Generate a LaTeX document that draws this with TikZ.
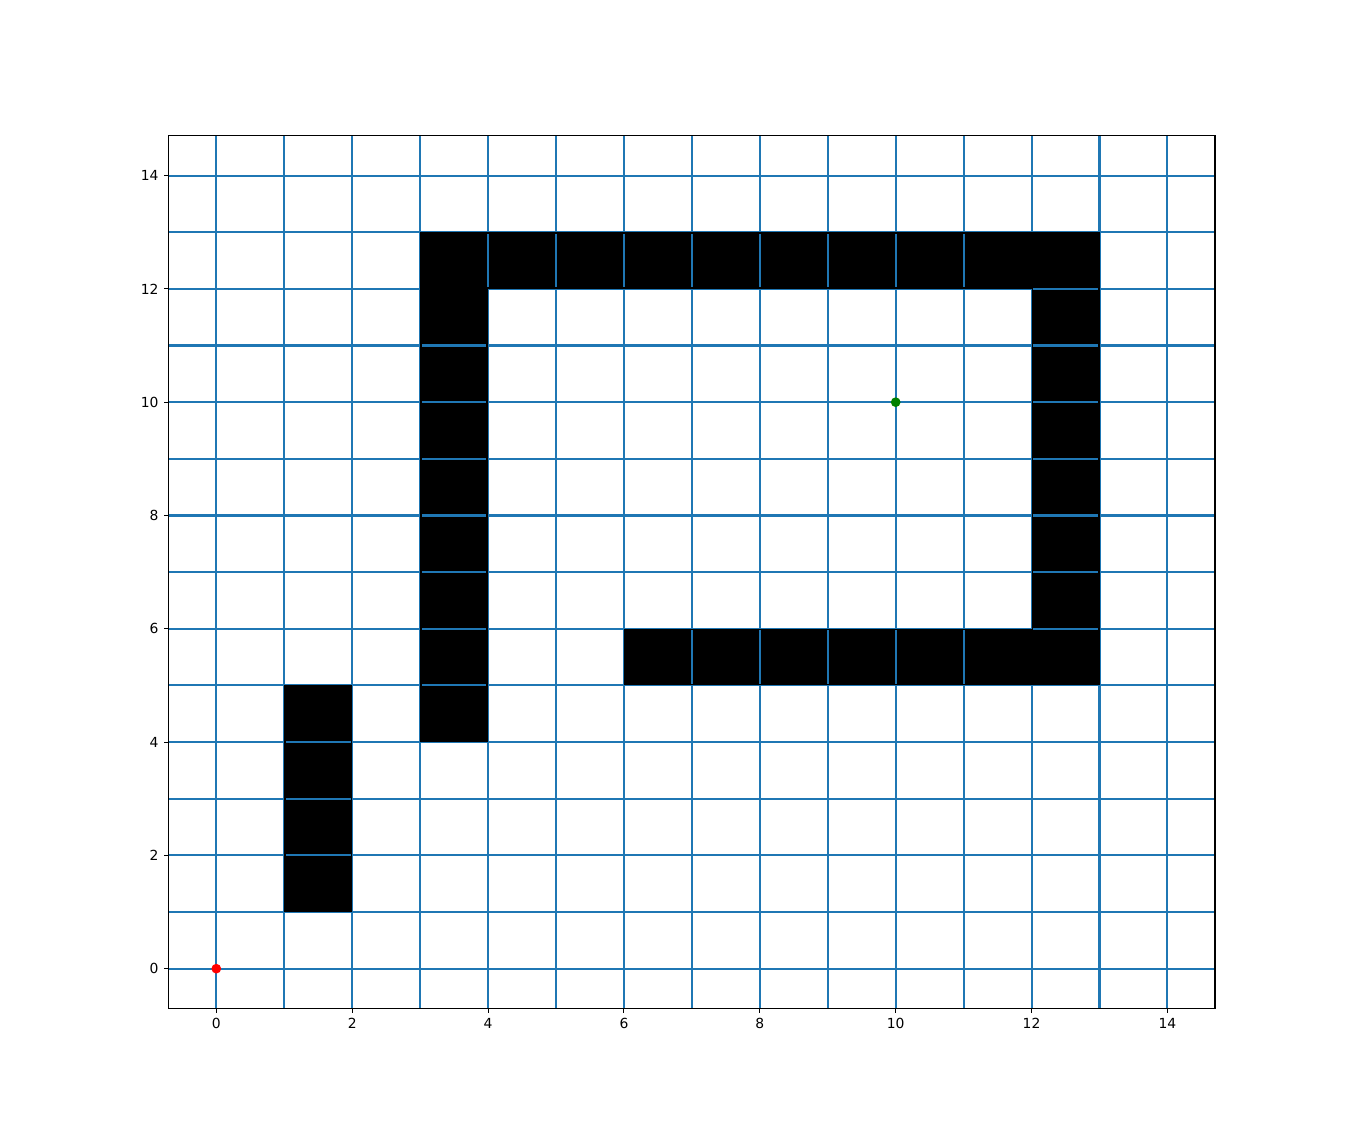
\documentclass[tikz,border=0pt]{standalone}
\usepackage{fontspec}
\setmainfont{DejaVu Sans}
\definecolor{mplblue}{HTML}{1F77B4}
\definecolor{mplgreen}{HTML}{008000}
\definecolor{mplred}{HTML}{FF0000}
\begin{document}
\begin{tikzpicture}[
  gridline/.style={mplblue, line width=1.5pt},
  innerline/.style={mplblue, line width=1.5pt, shorten <=1.2pt, shorten >=1.2pt},
  wall/.style={fill=black},
  ticklabel/.style={font=\fontsize{10}{12}\selectfont, inner sep=0pt},
  tickmark/.style={line width=0.8pt},
  dot/.style={circle, inner sep=0pt, minimum size=7pt}
]
\useasboundingbox (0,0) rectangle (972pt,815.76pt);
\begin{scope}[shift={(155.74pt,118.3pt)}, x=48.915pt, y=40.788pt]
  \coordinate (ll) at (-0.7,-0.7);
  \coordinate (ur) at (14.7,14.7);
  \begin{scope}
    \clip (ll) rectangle (ur);
    \foreach \i in {0,...,14} {
      \draw[gridline] (\i,-0.7) -- (\i,14.7);
      \draw[gridline] (-0.7,\i) -- (14.7,\i);
    }
  \end{scope}
  % walls
  \fill[wall] (3,4) rectangle (4,13);
  \fill[wall] (3,12) rectangle (13,13);
  \fill[wall] (12,5) rectangle (13,13);
  \fill[wall] (6,5) rectangle (13,6);
  \fill[wall] (1,1) rectangle (2,5);
  % inner segments visible over walls
  \foreach \i in {4,...,11} \draw[innerline] (\i,12) -- (\i,13);
  \foreach \i in {7,...,11} \draw[innerline] (\i,5) -- (\i,6);
  \foreach \j in {5,...,11} \draw[innerline] (3,\j) -- (4,\j);
  \foreach \j in {6,...,12} \draw[innerline] (12,\j) -- (13,\j);
  \foreach \j in {2,...,4} \draw[innerline] (1,\j) -- (2,\j);
  % start and goal
  \node[dot, fill=mplred] (start) at (0,0) {};
  \node[dot, fill=mplgreen] (goal) at (10,10) {};
  % frame
  \draw[line width=0.8pt] (ll) rectangle (ur);
  % ticks
  \foreach \v in {0,2,...,14} {
    \draw[tickmark] (\v,-0.7) -- ++(0pt,-3.5pt) node[ticklabel, below=3.5pt] (xl\v) {\v};
    \draw[tickmark] (-0.7,\v) -- ++(-3.5pt,0pt) node[ticklabel, left=3.5pt] (yl\v) {\v};
  }
\end{scope}
\end{tikzpicture}
\end{document}
